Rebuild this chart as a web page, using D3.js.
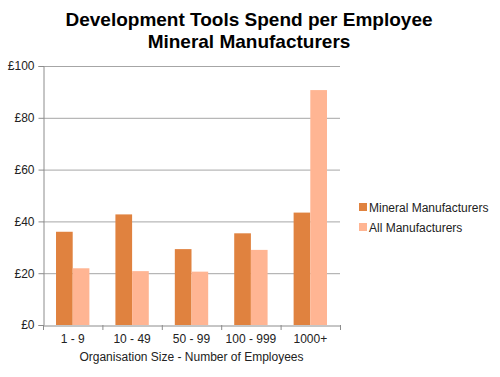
<!DOCTYPE html>
<html>
<head>
<meta charset="utf-8">
<script src="https://cdn.jsdelivr.net/npm/d3@7"></script>
<style>
  body { margin: 0; background: #fff; }
  svg { display: block; font-family: "Liberation Sans", Arial, sans-serif; }
</style>
</head>
<body>
<div class="chart"></div>
<script>
let categories = ['1 - 9', '10 - 49', '50 - 99', '100 - 999', '1000+']
let mineral = [36.0, 42.7, 29.3, 35.4, 43.4]
let allManufacturers = [21.9, 20.8, 20.6, 29.0, 90.7]
let seriesNames = ['Mineral Manufacturers', 'All Manufacturers']
let yTicks = [0, 20, 40, 60, 80, 100]

let width = 500,
    height = 377

let plot = { left: 43, right: 340, top: 66, bottom: 325 }
let colors = ['#E0823F', '#FFB593']

let svg = d3.select('.chart').append('svg')
    .attr('width', width)
    .attr('height', height)

// title
svg.append('text')
    .attr('x', 249).attr('y', 26)
    .attr('text-anchor', 'middle')
    .style('font-size', '19px').style('font-weight', 'bold')
    .text('Development Tools Spend per Employee')
svg.append('text')
    .attr('x', 249).attr('y', 48)
    .attr('text-anchor', 'middle')
    .style('font-size', '19px').style('font-weight', 'bold')
    .text('Mineral Manufacturers')

let x = d3.scaleBand().domain(categories).range([plot.left, plot.right]).paddingInner(0).paddingOuter(0)
let inner = d3.scaleBand().domain(seriesNames).range([0, x.bandwidth()]).paddingInner(0).paddingOuter(0.78)
let y = d3.scaleLinear().domain([0, 100]).range([plot.bottom, plot.top])

// gridlines
svg.append('g')
    .selectAll('line')
    .data(yTicks.slice(1))
    .join('line')
    .attr('x1', plot.left).attr('x2', plot.right)
    .attr('y1', d => y(d) + 0.5).attr('y2', d => y(d) + 0.5)
    .attr('stroke', '#a6a6a6')

// y axis
let yAxis = svg.append('g')
    .attr('transform', 'translate(' + (plot.left + 0.5) + ',0)')
    .call(d3.axisLeft(y).tickValues(yTicks).tickSize(5).tickPadding(4).tickFormat(d => '£' + d))
yAxis.select('.domain').attr('stroke', '#8c8c8c')
yAxis.selectAll('.tick line').attr('stroke', '#8c8c8c')
yAxis.selectAll('text').style('font-size', '12px').attr('fill', '#222')

// bars
let series = [mineral, allManufacturers]
series.forEach(function(values, s) {
    svg.append('g')
        .selectAll('rect')
        .data(values)
        .join('rect')
        .attr('x', (d, i) => x(categories[i]) + inner(seriesNames[s]))
        .attr('y', d => y(d))
        .attr('width', inner.bandwidth())
        .attr('height', d => y(0) - y(d))
        .attr('fill', colors[s])
})

// x axis
let xAxis = svg.append('g')
    .attr('transform', 'translate(0,' + (plot.bottom + 0.5) + ')')
    .call(d3.axisBottom(x).tickSize(0).tickPadding(9))
xAxis.select('.domain').attr('stroke', '#8c8c8c')
xAxis.selectAll('text').style('font-size', '12px').attr('fill', '#222')

// category separators
svg.append('g')
    .selectAll('line')
    .data(categories.concat(['end']))
    .join('line')
    .attr('x1', (d, i) => i < categories.length ? x(d) + 0.5 : plot.right + 0.5)
    .attr('x2', (d, i) => i < categories.length ? x(d) + 0.5 : plot.right + 0.5)
    .attr('y1', plot.bottom)
    .attr('y2', plot.bottom + 5)
    .attr('stroke', '#8c8c8c')

svg.append('text')
    .attr('x', (plot.left + plot.right) / 2).attr('y', 361)
    .attr('text-anchor', 'middle')
    .style('font-size', '12px').attr('fill', '#222')
    .text('Organisation Size - Number of Employees')

// legend
let legend = svg.append('g')
    .selectAll('g')
    .data(seriesNames)
    .join('g')
    .attr('transform', (d, i) => 'translate(359,' + (207 + i * 20) + ')')
legend.append('rect')
    .attr('x', 0).attr('y', -4)
    .attr('width', 8).attr('height', 8)
    .attr('fill', (d, i) => colors[i])
legend.append('text')
    .attr('x', 10).attr('y', 4.5)
    .style('font-size', '12px').attr('fill', '#222')
    .text(d => d)
</script>
</body>
</html>
